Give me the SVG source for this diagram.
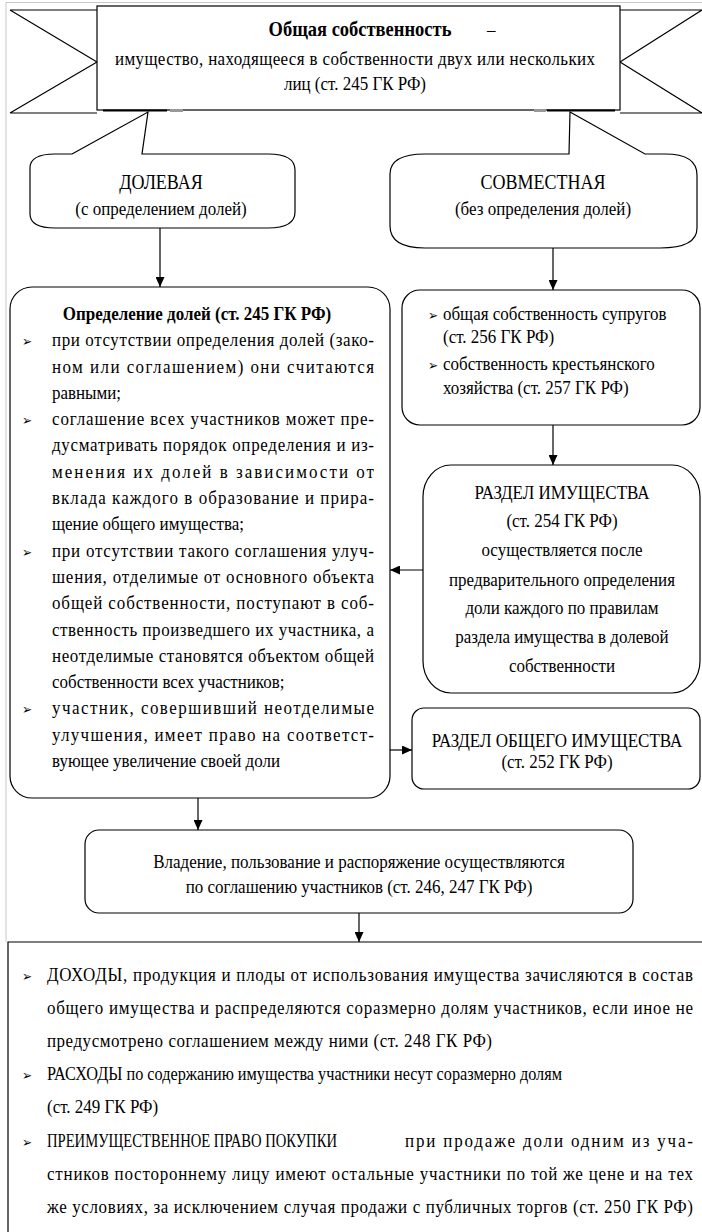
<svg xmlns="http://www.w3.org/2000/svg" width="702" height="1232" viewBox="0 0 702 1232">
<style>
.ln{fill:none;stroke:#000;stroke-width:1.2}
.bx{fill:#fff;stroke:#000;stroke-width:1.2}
.fr{fill:none;stroke:#c8c8c8;stroke-width:1}
text{font-family:'Liberation Serif','Times New Roman',serif;font-size:17px;fill:#000}
.b{font-weight:bold}
.m{text-anchor:middle}
.big{font-size:18px}
text.bul{font-family:'DejaVu Sans',sans-serif;font-size:12px}
</style>
<defs>
<marker id="ah" markerUnits="userSpaceOnUse" markerWidth="10" markerHeight="9" refX="10" refY="4.5" orient="auto">
<path d="M0,0 L10,4.5 L0,9 Z" fill="#000"/>
</marker>
</defs>
<rect width="702" height="1232" fill="#fff"/>
<path class="fr" d="M6,942 V2.5 H702"/>

<g id="ribbon">
<path class="ln" d="M10,10 H97 M10,113 H97 M10,10 L97,62 M10,113 L97,62"/>
<path class="ln" d="M620,10 H702 M620,113 H702 M702,10 L620,62 M702,113 L620,62"/>
<rect class="bx" x="97" y="6" width="523" height="104"/>
<path d="M103,110.5 H167 M547,110.5 H615" stroke="#000" stroke-width="2.2"/>
<rect x="170" y="109" width="13" height="3" fill="#999"/>
<rect x="534" y="109" width="12" height="3" fill="#999"/>
<g transform="scale(1 1.15)">
<text class="b m" x="360" y="31.3" style="font-size:18.5px">Общая собственность</text>
<text x="487" y="31.3">–</text>
<text class="m" x="355" y="56.52" textLength="480" lengthAdjust="spacing">имущество, находящееся в собственности двух или нескольких</text>
<text class="m" x="355" y="78.26">лиц (ст. 245 ГК РФ)</text>
</g>
</g>

<g id="dolevaya">
<path class="bx" d="M72,154 L148,112 L142,154 H268 Q295,154 295,170 V212 Q295,228 268,228 H55 Q30,228 30,214 V168 Q30,154 55,154 Z"/>
<g transform="scale(1 1.15)">
<text class="m big" x="161" y="164.35">ДОЛЕВАЯ</text>
<text class="m" x="161" y="186.96">(с определением долей)</text>
</g>
</g>

<g id="sovmestnaya">
<path class="bx" d="M569,154 L570,112 L645,154 H665 Q697,154 697,175 V228 Q697,248 660,248 H425 Q390,248 390,226 V174 Q390,154 425,154 Z"/>
<g transform="scale(1 1.15)">
<text class="m big" x="543" y="164.35">СОВМЕСТНАЯ</text>
<text class="m" x="543" y="186.96">(без определения долей)</text>
</g>
</g>

<g id="shares">
<rect class="bx" x="10" y="287" width="380" height="511" rx="22" ry="22"/>
<g transform="scale(1 1.15)">
<text class="b m" x="197" y="278.26">Определение долей (ст. 245 ГК РФ)</text>
<text class="bul" x="22" y="301.13">➢</text>
<text x="52" y="301.13" textLength="322" lengthAdjust="spacing">при отсутствии определения долей (зако-</text>
<text x="52" y="324" textLength="322" lengthAdjust="spacing">ном или соглашением) они считаются</text>
<text x="52" y="346.87">равными;</text>
<text class="bul" x="22" y="369.74">➢</text>
<text x="52" y="369.74" textLength="322" lengthAdjust="spacing">соглашение всех участников может пре-</text>
<text x="52" y="392.61" textLength="322" lengthAdjust="spacing">дусматривать порядок определения и из-</text>
<text x="52" y="415.48" textLength="322" lengthAdjust="spacing">менения их долей в зависимости от</text>
<text x="52" y="438.35" textLength="322" lengthAdjust="spacing">вклада каждого в образование и прира-</text>
<text x="52" y="461.22">щение общего имущества;</text>
<text class="bul" x="22" y="484.09">➢</text>
<text x="52" y="484.09" textLength="322" lengthAdjust="spacing">при отсутствии такого соглашения улуч-</text>
<text x="52" y="506.96" textLength="322" lengthAdjust="spacing">шения, отделимые от основного объекта</text>
<text x="52" y="529.83" textLength="322" lengthAdjust="spacing">общей собственности, поступают в соб-</text>
<text x="52" y="552.7" textLength="322" lengthAdjust="spacing">ственность произведшего их участника, а</text>
<text x="52" y="575.57" textLength="322" lengthAdjust="spacing">неотделимые становятся объектом общей</text>
<text x="52" y="598.43">собственности всех участников;</text>
<text class="bul" x="22" y="621.3">➢</text>
<text x="52" y="621.3" textLength="322" lengthAdjust="spacing">участник, совершивший неотделимые</text>
<text x="52" y="644.17" textLength="322" lengthAdjust="spacing">улучшения, имеет право на соответст-</text>
<text x="52" y="667.04">вующее увеличение своей доли</text>
</g>
</g>

<g id="joint-types">
<rect class="bx" x="402" y="290" width="298" height="135" rx="18" ry="18"/>
<g transform="scale(1 1.15)">
<text class="bul" x="428" y="278.26">➢</text>
<text x="443" y="278.26">общая собственность супругов</text>
<text x="443" y="298.26">(ст. 256 ГК РФ)</text>
<text class="bul" x="428" y="321.74">➢</text>
<text x="443" y="321.74">собственность крестьянского</text>
<text x="443" y="342.61">хозяйства (ст. 257 ГК РФ)</text>
</g>
</g>

<g id="razdel-imushchestva">
<rect class="bx" x="423" y="465" width="277" height="228" rx="28" ry="32"/>
<g transform="scale(1 1.15)">
<text class="m" x="562" y="433.91">РАЗДЕЛ ИМУЩЕСТВА</text>
<text class="m" x="562" y="458.26">(ст. 254 ГК РФ)</text>
<text class="m" x="562" y="483.48">осуществляется после</text>
<text class="m" x="562" y="509.57">предварительного определения</text>
<text class="m" x="562" y="533.91">доли каждого по правилам</text>
<text class="m" x="562" y="559.13">раздела имущества в долевой</text>
<text class="m" x="562" y="584.35">собственности</text>
</g>
</g>

<g id="razdel-obshchego">
<rect class="bx" x="412" y="708" width="288" height="81" rx="12" ry="12"/>
<g transform="scale(1 1.15)">
<text class="m" x="557" y="649.57">РАЗДЕЛ ОБЩЕГО ИМУЩЕСТВА</text>
<text class="m" x="557" y="667.83">(ст. 252 ГК РФ)</text>
</g>
</g>

<g id="vladenie">
<rect class="bx" x="85" y="830" width="548" height="83" rx="14" ry="14"/>
<g transform="scale(1 1.15)">
<text class="m" x="359" y="754.78">Владение, пользование и распоряжение осуществляются</text>
<text class="m" x="359" y="776.52">по соглашению участников (ст. 246, 247 ГК РФ)</text>
</g>
</g>

<g id="rules">
<path class="ln" d="M702,942 H8 V1232"/>
<g transform="scale(1 1.15)">
<text class="bul" x="22" y="853.04">➢</text>
<text x="47" y="853.04" textLength="646" lengthAdjust="spacing">ДОХОДЫ, продукция и плоды от использования имущества зачисляются в состав</text>
<text x="47" y="881.74" textLength="646" lengthAdjust="spacing">общего имущества и распределяются соразмерно долям участников, если иное не</text>
<text x="47" y="910.43" textLength="445" lengthAdjust="spacing">предусмотрено соглашением между ними (ст. 248 ГК РФ)</text>
<text class="bul" x="22" y="939.13">➢</text>
<text x="47" y="939.13" textLength="515" lengthAdjust="spacingAndGlyphs">РАСХОДЫ по содержанию имущества участники несут соразмерно долям</text>
<text x="47" y="967.83">(ст. 249 ГК РФ)</text>
<text class="bul" x="22" y="997.39">➢</text>
<text x="47" y="997.39" textLength="290" lengthAdjust="spacingAndGlyphs">ПРЕИМУЩЕСТВЕННОЕ ПРАВО ПОКУПКИ</text>
<text x="405" y="997.39" textLength="288" lengthAdjust="spacing">при продаже доли одним из уча-</text>
<text x="47" y="1026.09" textLength="646" lengthAdjust="spacing">стников постороннему лицу имеют остальные участники по той же цене и на тех</text>
<text x="47" y="1054.78" textLength="646" lengthAdjust="spacing">же условиях, за исключением случая продажи с публичных торгов (ст. 250 ГК РФ)</text>
</g>
</g>

<g id="connectors">
<line class="ln" x1="160" y1="228" x2="160" y2="287" marker-end="url(#ah)"/>
<line class="ln" x1="553" y1="248" x2="553" y2="290" marker-end="url(#ah)"/>
<line class="ln" x1="553" y1="425" x2="553" y2="465" marker-end="url(#ah)"/>
<line class="ln" x1="423" y1="570" x2="390" y2="570" marker-end="url(#ah)"/>
<line class="ln" x1="390" y1="750" x2="412" y2="750" marker-end="url(#ah)"/>
<line class="ln" x1="198" y1="798" x2="198" y2="830" marker-end="url(#ah)"/>
<line class="ln" x1="359" y1="913" x2="359" y2="942" marker-end="url(#ah)"/>
</g>
</svg>
